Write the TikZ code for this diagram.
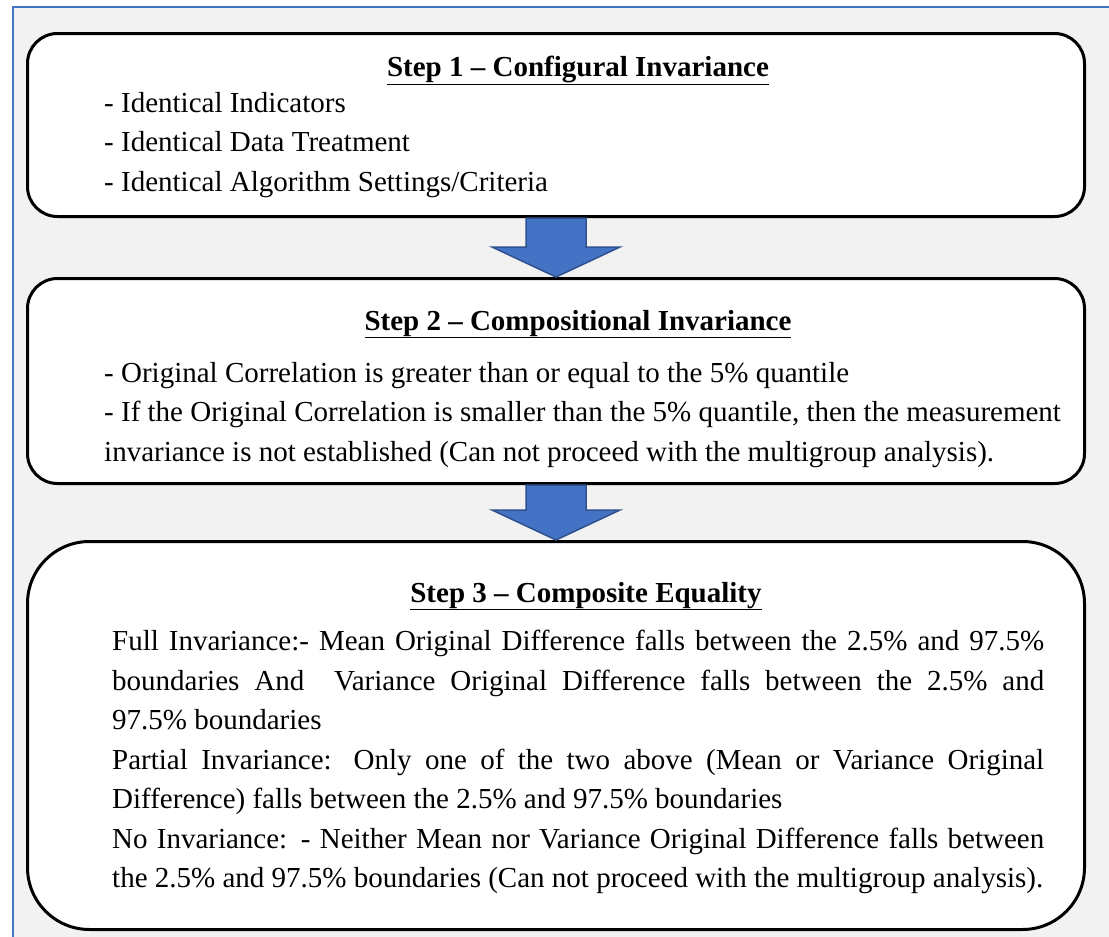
\documentclass[tikz,border=0pt]{standalone}
\usepackage{fontspec}
\setmainfont{Liberation Serif}
\usetikzlibrary{calc}

\definecolor{officeblue}{HTML}{4472C4}
\definecolor{arrowedge}{HTML}{2F528F}
\definecolor{panelgray}{HTML}{F2F2F2}

\tikzset{
  stepbox/.style={draw=black, line width=3pt, fill=white, rounded corners=30pt,
    inner sep=0pt, anchor=north west},
  flowarrow/.style={fill=officeblue, draw=arrowedge, line width=1.5pt},
  steptitle/.style={font=\bfseries\fontsize{29}{39.5}\selectfont, inner sep=0pt, anchor=base},
  steptext/.style={font=\fontsize{29}{39.5}\selectfont, inner sep=0pt, anchor=north west}
}

\begin{document}
\begin{tikzpicture}[x=1pt, y=-1pt]
    % Page and panel
    \useasboundingbox (0,0) rectangle (1109,937);
    \fill[white] (0,0) rectangle (1109,937);
    \fill[panelgray] (13,7) rectangle (1109,937);
    \draw[officeblue, line width=2pt] (13,937) -- (13,7) -- (1109,7);

    % Step boxes
    \node[stepbox, minimum width=1057pt, minimum height=183pt] (box1) at (26,32) {};
    \node[stepbox, minimum width=1057pt, minimum height=205pt] (box2) at (26,277) {};
    \node[stepbox, minimum width=1057pt, minimum height=388pt, rounded corners=62pt] (box3) at (26,540) {};

    % Block arrows
    \foreach \from/\to in {box1/box2, box2/box3}
      \draw[flowarrow] ($(\from.south)+(-30,0)$) -- ($(\to.north)+(-30,-30)$)
        -- ($(\to.north)+(-64,-30)$) -- (\to.north) -- ($(\to.north)+(64,-30)$)
        -- ($(\to.north)+(30,-30)$) -- ($(\from.south)+(30,0)$) -- cycle;

    % Step 1
    \node[steptitle] (title1) at (578,76) {\underline{Step 1 -- Configural Invariance}};
    \node[steptext, align=left] (text1) at (104,92)
      {- Identical Indicators\\- Identical Data Treatment\\- Identical Algorithm Settings/Criteria};

    % Step 2
    \node[steptitle] (title2) at (578,330) {\underline{Step 2 -- Compositional Invariance}};
    \node[steptext, align=left] (text2) at (104,362)
      {- Original Correlation is greater than or equal to the 5\% quantile\\
       - If the Original Correlation is smaller than the 5\% quantile, then the measurement\\
       invariance is not established (Can not proceed with the multigroup analysis).};

    % Step 3
    \node[steptitle] (title3) at (586,602) {\underline{Step 3 -- Composite Equality}};
    \node[steptext, text width=932pt, align=justify] (text3) at (112,630)
      {Full Invariance:- Mean Original Difference falls between the 2.5\% and 97.5\%
       \linebreak boundaries And \ Variance Original Difference falls between the 2.5\% and
       \linebreak 97.5\% boundaries\par
       Partial Invariance: Only one of the two above (Mean or Variance Original
       \linebreak Difference) falls between the 2.5\% and 97.5\% boundaries\par
       No Invariance: - Neither Mean nor Variance Original Difference falls between
       \linebreak the 2.5\% and 97.5\% boundaries (Can not proceed with the multigroup analysis).};
\end{tikzpicture}
\end{document}
